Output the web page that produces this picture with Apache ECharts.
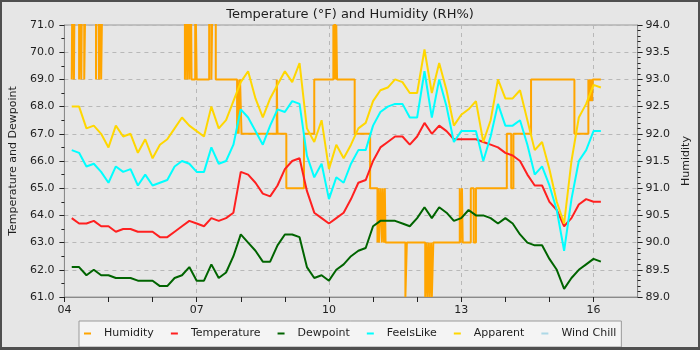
<!DOCTYPE html>
<html>
<head>
<meta charset="utf-8">
<script src="https://cdn.jsdelivr.net/npm/echarts@6/dist/echarts.min.js"></script>
<style>
  html, body { margin: 0; padding: 0; background: #e6e6e6; }
  #chart { width: 700px; height: 350px; }
</style>
</head>
<body>
<div id="chart"></div>
<script>
// Sample times (local clock) for the temperature-type readings
const times = [
  '04:10','04:20','04:30','04:40','04:50','05:00','05:10','05:20','05:30','05:40','05:50',
  '06:00','06:10','06:20','06:30','06:40','06:50','07:00','07:10','07:20','07:30','07:40','07:50',
  '08:00','08:10','08:20','08:30','08:40','08:50','09:00','09:10','09:20','09:30','09:40','09:50',
  '10:00','10:10','10:20','10:30','10:40','10:50','11:00','11:10','11:20','11:30','11:40','11:50',
  '12:00','12:10','12:20','12:30','12:40','12:50','13:00','13:10','13:20','13:30','13:40','13:50',
  '14:00','14:10','14:20','14:30','14:40','14:50','15:00','15:10','15:20','15:30','15:40','15:50',
  '16:00','16:10'
];

// Readings in °F
const temperature = [
  63.9,63.7,63.7,63.8,63.6,63.6,63.4,63.5,63.5,63.4,63.4,
  63.4,63.2,63.2,63.4,63.6,63.8,63.7,63.6,63.9,63.8,63.9,64.1,
  65.6,65.5,65.2,64.8,64.7,65.1,65.7,66.0,66.1,64.9,64.1,63.9,
  63.7,63.9,64.1,64.6,65.2,65.3,66.0,66.5,66.7,66.9,66.9,66.6,
  66.9,67.4,67.0,67.3,67.1,66.8,66.8,66.8,66.8,66.7,66.6,66.5,
  66.3,66.2,66.0,65.5,65.1,65.1,64.5,64.2,63.6,63.9,64.4,64.6,
  64.5,64.5
];
const dewpoint = [
  62.1,62.1,61.8,62.0,61.8,61.8,61.7,61.7,61.7,61.6,61.6,
  61.6,61.4,61.4,61.7,61.8,62.1,61.6,61.6,62.2,61.7,61.9,62.5,
  63.3,63.0,62.7,62.3,62.3,62.9,63.3,63.3,63.2,62.1,61.7,61.8,
  61.6,62.0,62.2,62.5,62.7,62.8,63.6,63.8,63.8,63.8,63.7,63.6,
  63.9,64.3,63.9,64.3,64.1,63.8,63.9,64.2,64.0,64.0,63.9,63.7,
  63.9,63.7,63.3,63.0,62.9,62.9,62.4,62.0,61.3,61.7,62.0,62.2,
  62.4,62.3
];
const feelsLike = [
  66.4,66.3,65.8,65.9,65.6,65.2,65.8,65.6,65.7,65.1,65.5,
  65.1,65.2,65.3,65.8,66.0,65.9,65.6,65.6,66.5,65.9,66.0,66.6,
  67.9,67.6,67.1,66.6,67.3,67.9,67.8,68.2,68.1,66.2,65.4,65.9,
  64.6,65.4,65.2,65.9,66.4,66.4,67.3,67.8,68.0,68.1,68.1,67.6,
  67.6,69.3,67.6,69.0,68.0,66.7,67.1,67.1,67.1,66.0,66.9,68.1,
  67.3,67.3,67.5,66.6,65.5,65.8,65.1,64.2,62.7,64.6,66.0,66.4,
  67.1,67.1
];
const apparent = [
  68.0,68.0,67.2,67.3,67.0,66.5,67.3,66.9,67.0,66.3,66.8,
  66.1,66.6,66.8,67.2,67.6,67.3,67.1,66.9,68.0,67.2,67.5,68.2,
  68.9,69.3,68.3,67.6,68.3,68.8,69.3,68.9,69.6,67.2,66.7,67.5,
  65.7,66.6,66.1,66.6,67.2,67.4,68.2,68.6,68.7,69.0,68.9,68.5,
  68.5,70.1,68.5,69.6,68.6,67.3,67.7,67.9,68.2,66.7,67.5,69.0,
  68.3,68.3,68.6,67.5,66.4,66.7,65.7,64.5,63.7,66.0,67.6,68.1,
  68.8,68.7
];
const windChill = [];

// Relative humidity (%), recorded only when the reading changes
const humidityTimes = [
  '04:10','04:11','04:13','04:14','04:20','04:22','04:23','04:24','04:27','04:29',
  '04:43','04:44','04:47','04:48','04:50','04:52',
  '06:44','06:46','06:47','06:49','06:50','06:52','06:53','06:58','07:00',
  '07:17','07:20','07:22','07:26',
  '07:55','07:56','07:57','07:59','08:01',
  '08:49','08:50','09:02','09:26','09:40',
  '10:06','10:07','10:08','10:09','10:10','10:11',
  '10:35','10:56',
  '11:06','11:07','11:08','11:10','11:12','11:13','11:15','11:16','11:17',
  '11:44','11:46',
  '12:11','12:13','12:14','12:16','12:17','12:19','12:20','12:22',
  '12:58','12:59','13:01','13:02','13:13','13:17','13:20',
  '14:02','14:08','14:11','14:35','15:34','15:53',
  '15:54','15:55','15:56','15:57','15:58','15:59','16:10'
];
const humidity = [
  93,95,93,95,93,95,93,95,93,95,
  93,95,93,95,93,95,
  93,95,93,95,93,95,93,95,93,
  95,93,95,93,
  92,93,92,93,92,
  93,92,91,92,93,
  94,93,95,93,94,93,
  92,91,
  90,91,90,91,90,91,90,91,90,
  89,90,
  89,90,89,90,89,90,89,90,
  91,90,91,90,91,90,91,
  92,91,92,93,92,93,
  92.6,93,92.6,93,92.6,93,93
];

const seriesNames = ['Humidity', 'Temperature', 'Dewpoint', 'FeelsLike', 'Apparent', 'Wind Chill'];
const seriesColors = ['#ffa500', '#ff2020', '#006400', '#00ffff', '#ffd700', '#add8e6'];
const xTickLabels = ['04', '07', '10', '13', '16'];

function toHours(t) {
  const [h, m] = t.split(':').map(Number);
  return h + m / 60;
}
function pairs(ts, vs) {
  return ts.map((t, i) => [toHours(t), vs[i]]);
}

const FONT = 'DejaVu Sans';
const TEXT = '#1e1e1e';
const AXIS = '#8a8a8a';
const GRIDLINE = { type: [4, 4], color: '#b8b8b8', width: 1 };

function lineSeries(idx, data, extra) {
  return Object.assign({
    name: seriesNames[idx],
    type: 'line',
    data: data,
    showSymbol: false,
    symbol: 'none',
    color: seriesColors[idx],
    lineStyle: { width: 2, color: seriesColors[idx] },
    animation: false,
    emphasis: { disabled: true }
  }, extra || {});
}

const chart = echarts.init(document.getElementById('chart'), null, { renderer: 'canvas' });

chart.setOption({
  backgroundColor: '#e6e6e6',
  animation: false,
  textStyle: { fontFamily: FONT },
  title: {
    text: 'Temperature (°F) and Humidity (RH%)',
    left: 'center',
    top: 3,
    textStyle: { fontFamily: FONT, fontSize: 13, fontWeight: 'normal', color: TEXT }
  },
  grid: {
    left: 55, right: 60, top: 25, bottom: 53,
    show: true, backgroundColor: '#e6e6e6', borderColor: '#9a9a9a', borderWidth: 1
  },
  legend: {
    data: seriesNames,
    left: 79, top: 321,
    orient: 'horizontal',
    icon: 'rect',
    itemWidth: 7, itemHeight: 2,
    itemGap: 17,
    padding: [7, 5, 8, 5],
    backgroundColor: '#f4f4f4',
    borderColor: '#9a9a9a', borderWidth: 1, borderRadius: 0,
    textStyle: { fontFamily: FONT, fontSize: 11, color: TEXT, padding: [0, 0, 0, 8] },
    selectedMode: false
  },
  xAxis: [
    {
      type: 'value', min: 4, max: 17, interval: 1,
      axisLine: { show: true, lineStyle: { color: AXIS } },
      axisTick: { show: true, length: 5, lineStyle: { color: '#222' } },
      axisLabel: {
        fontFamily: FONT, fontSize: 11, color: TEXT, margin: 8,
        showMaxLabel: false,
        formatter: v => {
          const s = String(Math.round(v)).padStart(2, '0');
          return xTickLabels.includes(s) ? s : '';
        }
      },
      splitLine: { show: false }
    },
    {
      type: 'value', min: 4, max: 17, interval: 3, position: 'bottom',
      axisLine: { show: false }, axisTick: { show: false }, axisLabel: { show: false },
      splitLine: { show: true, lineStyle: GRIDLINE }
    }
  ],
  yAxis: [
    {
      type: 'value', min: 61, max: 71, interval: 1, position: 'left',
      name: 'Temperature and Dewpoint', nameLocation: 'middle', nameGap: 33, nameRotate: 90,
      nameTextStyle: { fontFamily: FONT, fontSize: 11, color: TEXT },
      axisLine: { show: true, lineStyle: { color: AXIS } },
      axisTick: { show: true, length: 5, lineStyle: { color: '#222' } },
      minorTick: { show: true, splitNumber: 2, length: 3, lineStyle: { color: '#222' } },
      axisLabel: { fontFamily: FONT, fontSize: 11, color: TEXT, margin: 10, formatter: v => v.toFixed(1) },
      splitLine: { show: true, lineStyle: GRIDLINE }
    },
    {
      type: 'value', min: 89, max: 94, interval: 0.5, position: 'right',
      name: 'Humidity', nameLocation: 'middle', nameGap: 35, nameRotate: 90,
      nameTextStyle: { fontFamily: FONT, fontSize: 11, color: TEXT },
      axisLine: { show: true, lineStyle: { color: AXIS } },
      axisTick: { show: true, length: 5, lineStyle: { color: '#222' } },
      minorTick: { show: true, splitNumber: 5, length: 3, lineStyle: { color: '#222' } },
      axisLabel: { fontFamily: FONT, fontSize: 11, color: TEXT, margin: 8, formatter: v => v.toFixed(1) },
      splitLine: { show: false }
    }
  ],
  series: [
    lineSeries(0, pairs(humidityTimes, humidity), { yAxisIndex: 1, step: 'end', clip: true }),
    lineSeries(1, pairs(times, temperature), { yAxisIndex: 0 }),
    lineSeries(2, pairs(times, dewpoint), { yAxisIndex: 0 }),
    lineSeries(3, pairs(times, feelsLike), { yAxisIndex: 0 }),
    lineSeries(4, pairs(times, apparent), { yAxisIndex: 0 }),
    lineSeries(5, pairs(times.slice(0, windChill.length), windChill), { yAxisIndex: 0 })
  ],
  graphic: [
    {
      type: 'rect', silent: true, z: 100,
      shape: { x: 1, y: 1, width: 698, height: 348 },
      style: { fill: null, stroke: '#4f4f4f', lineWidth: 2 }
    },
    {
      type: 'rect', silent: true, z: 100,
      shape: { x: 0, y: 347, width: 700, height: 3 },
      style: { fill: '#4f4f4f' }
    }
  ]
});
</script>
</body>
</html>
